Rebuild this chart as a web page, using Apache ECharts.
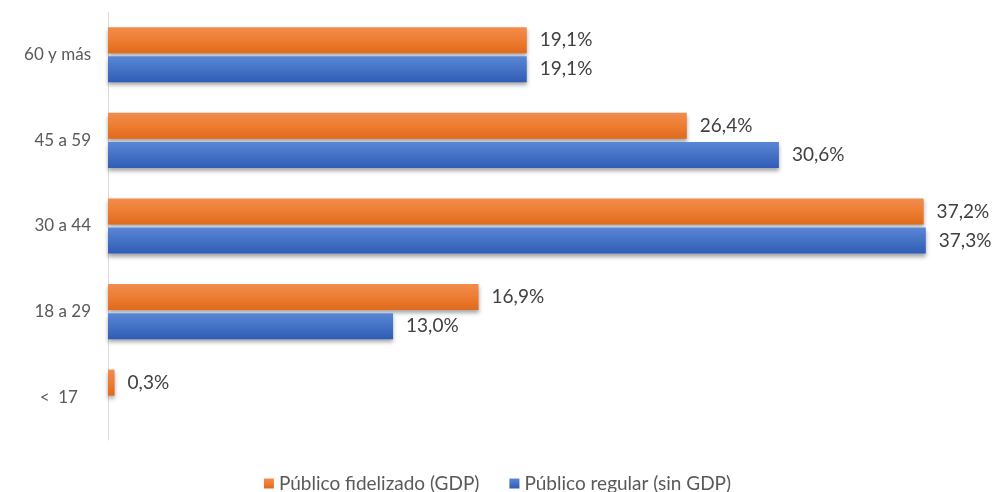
<!DOCTYPE html>
<html>
<head>
<meta charset="utf-8">
<script src="https://cdn.jsdelivr.net/npm/echarts@6/dist/echarts.min.js"></script>
<style>
  html, body { margin: 0; padding: 0; background: #fff; }
  #main { width: 995px; height: 492px; }
</style>
</head>
<body>
<div id="main"></div>
<script>
// categorias de edad (de abajo a arriba)
var categorias = ['<  17   ', '18 a 29', '30 a 44', '45 a 59', '60 y más'];
var fidelizado = [0.3, 16.9, 37.2, 26.4, 19.1];
var regular = [null, 13.0, 37.3, 30.6, 19.1];

var chartDom = document.getElementById('main');
var myChart = echarts.init(chartDom, null, {renderer: 'canvas'});

function etiqueta(p) {
    return p.value == null ? '' : p.value.toFixed(1).replace('.', ',') + '%';
}

var fuente = 'Lato';

var option = {
    backgroundColor: '#ffffff',
    animation: false,
    textStyle: {fontFamily: fuente},
    legend: {
        bottom: -6,
        left: 'center',
        itemWidth: 10,
        itemHeight: 10,
        itemGap: 30,
        icon: 'rect',
        textStyle: {color: '#595959', fontSize: 19, fontFamily: fuente},
        data: ['Público fidelizado (GDP)', 'Público regular (sin GDP)']
    },
    grid: {
        left: 108,
        right: 10,
        top: 12,
        bottom: 52
    },
    xAxis: {
        type: 'value',
        min: 0,
        max: 40,
        show: false
    },
    yAxis: {
        type: 'category',
        data: categorias,
        axisLine: {show: true, lineStyle: {color: '#d9d9d9', width: 1}},
        axisTick: {show: false},
        axisLabel: {color: '#595959', fontSize: 17, margin: 17, fontFamily: fuente}
    },
    series: [
        {
            name: 'Público fidelizado (GDP)',
            type: 'bar',
            data: fidelizado,
            barWidth: 26,
            barGap: '12%',
            barCategoryGap: '36%',
            itemStyle: {
                color: new echarts.graphic.LinearGradient(0, 0, 0, 1, [
                    {offset: 0, color: '#f28c4e'},
                    {offset: 0.5, color: '#ed7d31'},
                    {offset: 1, color: '#e0691c'}
                ]),
                shadowColor: 'rgba(0,0,0,0.35)',
                shadowBlur: 4,
                shadowOffsetY: 3
            },
            label: {
                show: true,
                position: 'right',
                distance: 13,
                color: '#404040',
                fontSize: 19,
                fontFamily: fuente,
                formatter: etiqueta
            }
        },
        {
            name: 'Público regular (sin GDP)',
            type: 'bar',
            data: regular,
            barWidth: 26,
            itemStyle: {
                color: new echarts.graphic.LinearGradient(0, 0, 0, 1, [
                    {offset: 0, color: '#5a86d6'},
                    {offset: 0.5, color: '#4472c4'},
                    {offset: 1, color: '#2f5cb6'}
                ]),
                shadowColor: 'rgba(0,0,0,0.35)',
                shadowBlur: 4,
                shadowOffsetY: 3
            },
            label: {
                show: true,
                position: 'right',
                distance: 13,
                color: '#404040',
                fontSize: 19,
                fontFamily: fuente,
                formatter: etiqueta
            }
        }
    ],
    color: ['#ed7d31', '#4472c4']
};

option && myChart.setOption(option);
</script>
</body>
</html>
